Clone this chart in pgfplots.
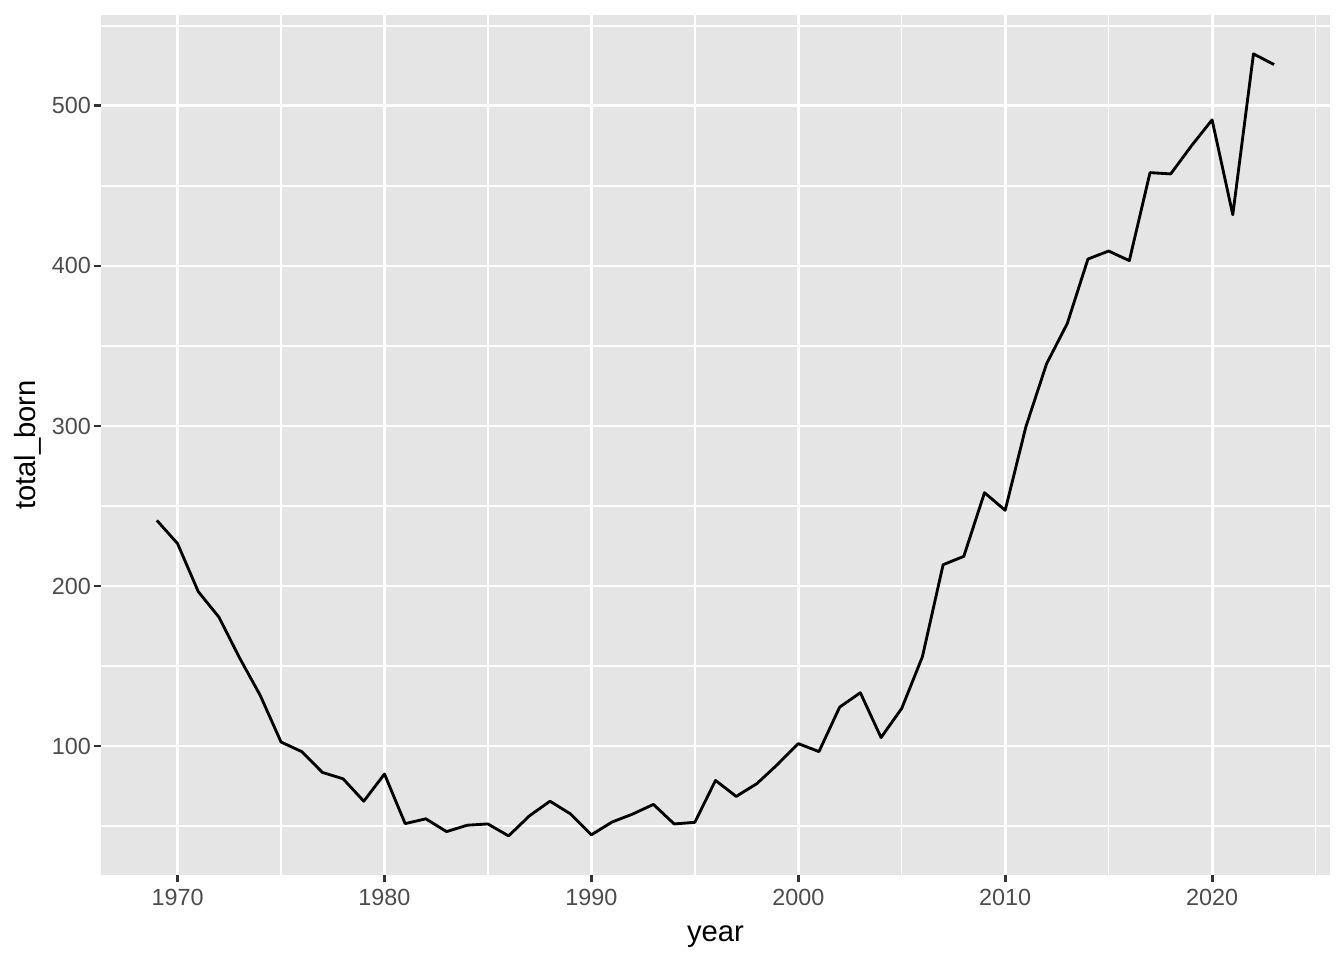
\documentclass[border=0pt]{standalone}
\usepackage{pgfplots}
\pgfplotsset{compat=1.18}
\usepackage{fontspec}
\setmainfont{Liberation Sans}
\definecolor{ggbg}{HTML}{E5E5E5}
\definecolor{ggtick}{gray}{0.2}
\definecolor{gglab}{gray}{0.3}
\begin{document}
\begin{tikzpicture}
\path[use as bounding box] (-38.02pt,-32.0pt) rectangle (467.87pt,329.35pt);
\begin{axis}[
  at={(0pt,0pt)}, anchor=south west,
  width=462.6pt, height=323.7pt, scale only axis,
  xmin=1966.3, xmax=2025.7, ymin=19.4, ymax=556.8,
  axis background/.style={fill=ggbg},
  axis line style={draw=none},
  xtick={1970,1980,...,2020}, ytick={100,200,...,500},
  minor xtick={1975,1985,...,2025}, minor ytick={50,150,...,550},
  grid=both,
  major grid style={white, line width=1.07pt},
  minor grid style={white, line width=0.53pt},
  tick align=outside, major tick length=2.75pt, minor tick length=0pt,
  xtick pos=bottom, ytick pos=left,
  tick style={color=ggtick, line width=1.07pt},
  ticklabel style={font=\fontsize{8.8}{10}\selectfont, text=gglab},
  y tick label style={xshift=2.5pt},
  x tick label style={yshift=0.8pt},
  /pgf/number format/assume math mode=true,
  /pgf/number format/1000 sep={},
  xlabel={year}, ylabel={total\_born},
  label style={font=\fontsize{11}{13}\selectfont},
  x label style={at={(axis description cs:0.5,-0.0712)}, anchor=center},
  y label style={at={(axis description cs:-0.0595,0.5)}, anchor=center, rotate=0},
]
\addplot[black, line width=1.07pt, line join=round] coordinates {
(1969,241) (1970,226.5) (1971,196.5) (1972,180.5) (1973,155) (1974,131.5)
(1975,102.5) (1976,96.5) (1977,83.5) (1978,79.5) (1979,65.5) (1980,82.5)
(1981,51.5) (1982,54.5) (1983,46.5) (1984,50.5) (1985,51.3) (1986,43.8)
(1987,56.3) (1988,65.5) (1989,57.5) (1990,44.5) (1991,52.5) (1992,57.5)
(1993,63.5) (1994,51.3) (1995,52.3) (1996,78.5) (1997,68.5) (1998,76.5)
(1999,88.5) (2000,101.5) (2001,96.5) (2002,124.3) (2003,133.3) (2004,105.3)
(2005,123.5) (2006,155.8) (2007,213.3) (2008,218.5) (2009,258.3) (2010,247.3)
(2011,299.5) (2012,338.8) (2013,364) (2014,404.3) (2015,409.3) (2016,403.3)
(2017,458.3) (2018,457.5) (2019,475) (2020,491.3) (2021,432) (2022,532.5)
(2023,525.8)
};
\end{axis}
\end{tikzpicture}
\end{document}
